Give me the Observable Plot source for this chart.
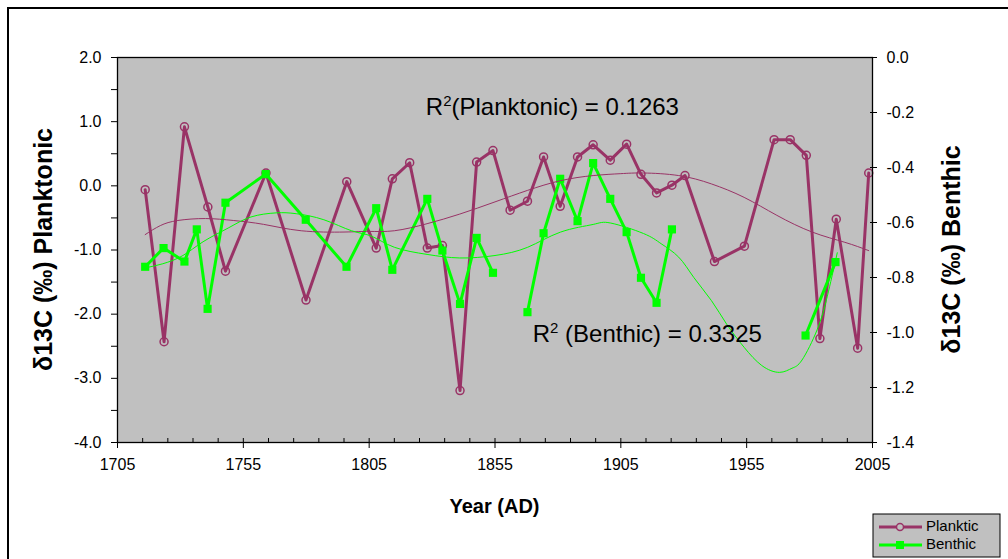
<!DOCTYPE html>
<html><head><meta charset="utf-8">
<script src="https://cdn.jsdelivr.net/npm/d3@7"></script>
<script src="https://cdn.jsdelivr.net/npm/@observablehq/plot@0.6"></script>
<style>
html,body{margin:0;padding:0;background:#fff;}
#chart{position:relative;width:1008px;height:559px;overflow:hidden;}
</style></head><body><div id="chart"></div>
<script>
// ---- data ----
const planktonicYears = [1716, 1723.5, 1731.6, 1740.9, 1747.9, 1764, 1779.9, 1796.1, 1807.8, 1814.2, 1821.1, 1828.1, 1834.1, 1841.1, 1847.7, 1854.2, 1861, 1867.9, 1874.3, 1880.9, 1887.8, 1894, 1900.8, 1907.3, 1913, 1919.2, 1925.3, 1930.5, 1942.2, 1954.1, 1965.9, 1972.3, 1978.7, 1984.1, 1990.6, 1999.1, 2003.5];
const planktonicValues = [-0.06, -2.43, 0.92, -0.33, -1.33, 0.20, -1.78, 0.065, -0.97, 0.11, 0.36, -0.97, -0.93, -3.19, 0.37, 0.55, -0.38, -0.24, 0.45, -0.32, 0.45, 0.64, 0.40, 0.65, 0.18, -0.11, 0.01, 0.16, -1.18, -0.94, 0.72, 0.72, 0.475, -2.38, -0.52, -2.53, 0.20];

const benthicYears = [1716, 1723.3, 1731.6, 1736.5, 1740.8, 1747.9, 1763.9, 1779.8, 1796, 1807.8, 1814.2, 1828.1, 1834.1, 1841.1, 1847.7, 1854.2, 1861, 1867.9, 1874.3, 1880.9, 1887.8, 1894, 1900.8, 1907.3, 1913, 1919.2, 1925.3, 1950, 1978.4, 1990.3];
const benthicValues = [-0.761, -0.693, -0.742, -0.625, -0.914, -0.528, -0.424, -0.590, -0.761, -0.548, -0.772, -0.514, -0.702, -0.896, -0.656, -0.783, null, -0.926, -0.639, -0.441, -0.595, -0.384, -0.514, -0.635, -0.801, -0.892, -0.625, null, -1.011, -0.744];

const planktonicTrendYears = [1716, 1722, 1729, 1740, 1751, 1763, 1778, 1795, 1805, 1815, 1828, 1841, 1855, 1868, 1881, 1894, 1905, 1914, 1928, 1941, 1954, 1967, 1981, 1994, 2003.5];
const planktonicTrendValues = [-0.76, -0.62, -0.54, -0.51, -0.54, -0.60, -0.70, -0.72, -0.71, -0.70, -0.59, -0.44, -0.25, -0.07, 0.08, 0.16, 0.19, 0.20, 0.16, 0.03, -0.18, -0.46, -0.72, -0.88, -1.01];

const benthicTrendYears = [1716, 1723, 1731, 1739, 1749, 1758, 1768, 1776, 1787, 1798, 1806, 1815, 1828, 1841, 1855, 1868, 1881, 1894, 1901, 1914, 1921, 1928, 1934, 1941, 1947, 1954, 1961, 1968, 1973, 1977, 1983, 1987, 1991];
const benthicTrendValues = [-0.765, -0.75, -0.72, -0.67, -0.62, -0.58, -0.565, -0.568, -0.59, -0.63, -0.65, -0.69, -0.716, -0.729, -0.72, -0.69, -0.635, -0.607, -0.602, -0.64, -0.677, -0.726, -0.80, -0.884, -0.969, -1.054, -1.12, -1.145, -1.13, -1.10, -0.99, -0.87, -0.71];

const xMajorTicks = [1705, 1755, 1805, 1855, 1905, 1955, 2005];
const leftTicks = [-4, -3, -2, -1, 0, 1, 2];
const rightTicks = [0, -0.2, -0.4, -0.6, -0.8, -1.0, -1.2, -1.4];

const annotations = [
  {label: "(Planktonic) = 0.1263", year: 1877.8, value: 1.22},
  {label: " (Benthic) = 0.3325", year: 1915.5, value: -2.32}
];

const seriesNames = ["Planktic", "Benthic"];

// ---- helpers ----
const FONT = "'Liberation Sans', Arial, Helvetica, sans-serif";
const PLUM = "#993366", GREEN = "#00ff00", PANEL = "#c0c0c0";
const LEFT = [-4, 2], RIGHT = [-1.4, 0];
const toLeft = b => LEFT[0] + (b - RIGHT[0]) * (LEFT[1] - LEFT[0]) / (RIGHT[1] - RIGHT[0]);
const fromLeft = p => RIGHT[0] + (p - LEFT[0]) * (RIGHT[1] - RIGHT[0]) / (LEFT[1] - LEFT[0]);
const fmt1 = d => (Math.abs(d) < 1e-9 ? 0 : d).toFixed(1);

const plankt = planktonicYears.map((year, i) => ({year, value: planktonicValues[i]}));
const benth = benthicYears.map((year, i) => ({year, value: benthicValues[i] == null ? NaN : toLeft(benthicValues[i])}));
const ptrend = planktonicTrendYears.map((year, i) => ({year, value: planktonicTrendValues[i]}));
const btrend = benthicTrendYears.map((year, i) => ({year, value: toLeft(benthicTrendValues[i])}));

const minorX = d3.range(xMajorTicks[0], xMajorTicks[xMajorTicks.length - 1] + 1, 10);
const leftAll = d3.range(LEFT[0], LEFT[1] + 0.001, 0.5);

const plot = Plot.plot({
  width: 1008, height: 559,
  marginLeft: 117, marginRight: 136, marginTop: 57, marginBottom: 117,
  style: {fontFamily: FONT, fontSize: "16px", color: "#000", background: "transparent", overflow: "visible"},
  x: {domain: [1705, 2005]},
  y: {domain: LEFT},
  marks: [
    Plot.frame({fill: PANEL, stroke: "none"}),
    Plot.line(plankt, {x: "year", y: "value", stroke: PLUM, strokeWidth: 3}),
    Plot.dot(plankt, {x: "year", y: "value", symbol: "circle", r: 4, stroke: PLUM, strokeWidth: 1.5, fill: "none"}),
    Plot.line(benth, {x: "year", y: "value", stroke: GREEN, strokeWidth: 3}),
    Plot.dot(benth, {x: "year", y: "value", symbol: "square", r: 4.6, fill: GREEN, stroke: "none"}),
    Plot.line(ptrend, {x: "year", y: "value", stroke: PLUM, strokeWidth: 1, curve: "natural"}),
    Plot.line(btrend, {x: "year", y: "value", stroke: GREEN, strokeWidth: 1, curve: "natural"}),
    Plot.text(annotations, {x: "year", y: "value", text: d => "R2" + d.label, fontSize: 24, fill: "#000", textAnchor: "middle", lineAnchor: "middle", className: "r2-note"}),
    Plot.frame({stroke: "#000", strokeWidth: 1.3}),
    // left axis
    Plot.axisY({ticks: leftAll, tickSize: 6, tickPadding: 10, tickFormat: d => Number.isInteger(d) ? fmt1(d) : "", label: null, fontSize: 16}),
    // bottom axis
    Plot.axisX({ticks: xMajorTicks, tickSize: 6, tickPadding: 10, tickFormat: d => String(d), label: null, fontSize: 16}),
    Plot.axisX({ticks: minorX, tickSize: -4, tickFormat: () => "", label: null}),
    // right axis (benthic)
    Plot.axisY({anchor: "right", ticks: rightTicks.map(toLeft), tickSize: 4, tickPadding: 10, tickFormat: d => fmt1(fromLeft(d)), label: null, fontSize: 16}),
    Plot.axisY({anchor: "right", ticks: rightTicks.map(toLeft), tickSize: -3, tickFormat: () => "", label: null})
  ]
});

document.getElementById("chart").appendChild(plot);

// superscript "2" in the R² notes
d3.select(plot).selectAll(".r2-note text").each(function(d, i) {
  const t = d3.select(this);
  const rest = annotations[i].label;
  t.text(null);
  t.append("tspan").text("R");
  t.append("tspan").attr("dy", -9).attr("font-size", 15).text("2");
  t.append("tspan").attr("dy", 9).text(rest);
});

// ---- decorations: chart border, axis titles, legend ----
const svg = d3.select(plot);
svg.insert("rect", ":first-child")
  .attr("x", 8).attr("y", 8).attr("width", 1020).attr("height", 580)
  .attr("fill", "#fff").attr("stroke", "#000").attr("stroke-width", 2);

const cx = (117 + 872) / 2, cy = (57 + 442) / 2;
svg.append("text").text("δ13C (‰) Planktonic")
  .attr("transform", `translate(45,${cy}) rotate(-90)`)
  .attr("text-anchor", "middle").attr("dominant-baseline", "middle")
  .attr("font-family", FONT).attr("font-weight", "bold").attr("font-size", 25);
svg.append("text").text("δ13C (‰) Benthic")
  .attr("transform", `translate(953,${cy}) rotate(-90)`)
  .attr("text-anchor", "middle").attr("dominant-baseline", "middle")
  .attr("font-family", FONT).attr("font-weight", "bold").attr("font-size", 25);
svg.append("text").text("Year (AD)")
  .attr("x", cx).attr("y", 508)
  .attr("text-anchor", "middle").attr("dominant-baseline", "middle")
  .attr("font-family", FONT).attr("font-weight", "bold").attr("font-size", 20);

const lg = svg.append("g").attr("transform", "translate(873,514)");
lg.append("rect").attr("width", 127).attr("height", 43).attr("fill", PANEL).attr("stroke", "#000").attr("stroke-width", 1);
const rows = [{name: seriesNames[0], color: PLUM, sym: "circle"}, {name: seriesNames[1], color: GREEN, sym: "square"}];
rows.forEach((r, i) => {
  const y = 13 + i * 18;
  lg.append("line").attr("x1", 6).attr("x2", 49).attr("y1", y).attr("y2", y).attr("stroke", r.color).attr("stroke-width", 3);
  if (r.sym === "circle") lg.append("circle").attr("cx", 27).attr("cy", y).attr("r", 3.5).attr("fill", PANEL).attr("stroke", r.color).attr("stroke-width", 1.5);
  else lg.append("rect").attr("x", 23).attr("y", y - 4).attr("width", 8).attr("height", 8).attr("fill", r.color);
  lg.append("text").text(r.name).attr("x", 53).attr("y", y).attr("dominant-baseline", "middle")
    .attr("text-anchor", "start").attr("font-family", FONT).attr("font-size", 15);
});
</script>
</body></html>
